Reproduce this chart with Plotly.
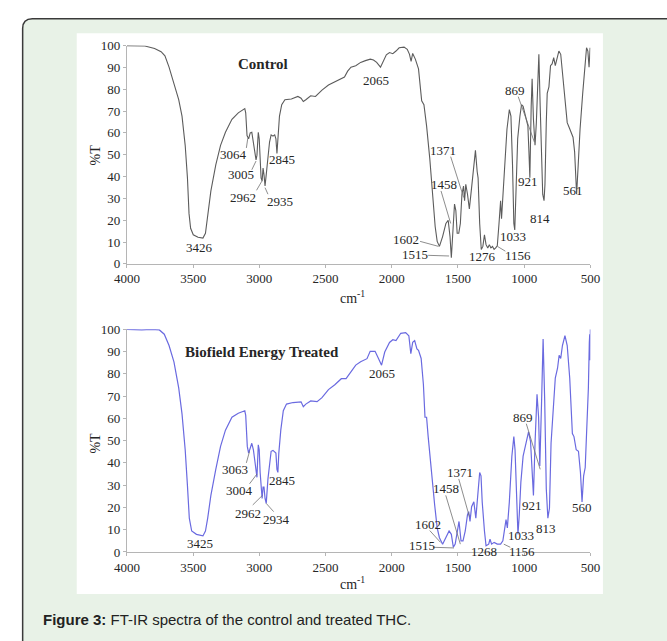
import plotly.graph_objects as go

W, H = 667, 641

# ---------------- data (wavenumber cm-1, %T) ----------------
control_points = [
    (4000, 100), (3864, 99.8), (3791, 98.7), (3742, 97.2), (3713, 95.3), (3682, 90.1), (3645, 82.6),
    (3609, 75.2), (3584, 67.7), (3560, 54.3), (3543, 39.4), (3531, 23), (3519, 16.3), (3499, 13.3),
    (3463, 12.2), (3426, 11.8), (3407, 14), (3390, 21.5), (3366, 33.4), (3329, 45.3), (3293, 54.3),
    (3256, 60.3), (3207, 66.2), (3159, 69.2), (3123, 70.7), (3110, 71.1), (3103, 69.2), (3093, 58.8),
    (3081, 57.3), (3069, 60), (3057, 60.3), (3045, 55.0), (3033, 49.1), (3025, 47.6), (3018, 49.8),
    (3008, 60.3), (3001, 57.3), (2994, 46.8), (2987, 39.4), (2979, 37.9), (2972, 43.9), (2965, 40.9),
    (2957, 35.7), (2948, 40.9), (2935, 49.8), (2923, 55.8), (2911, 59.1), (2897, 58.5), (2884, 59.1),
    (2875, 57.3), (2867, 50.6), (2860, 57.3), (2848, 67.7), (2831, 72.9), (2807, 75.2), (2758, 75.5),
    (2709, 76.7), (2685, 75.9), (2668, 74.4), (2649, 75.2), (2612, 77), (2576, 76.7), (2527, 79.6),
    (2478, 81.9), (2430, 83.4), (2381, 84.9), (2357, 85.6), (2333, 88.3), (2308, 90.1), (2272, 90.8),
    (2235, 92.3), (2199, 93.1), (2162, 93.8), (2138, 93.4), (2114, 92.3), (2085, 90.1), (2065, 93.1),
    (2041, 95.8), (2017, 96.8), (1992, 96.3), (1968, 97.5), (1944, 99), (1907, 99.3), (1883, 98.3),
    (1866, 96), (1854, 92.8), (1842, 96.4), (1822, 93.8), (1798, 89.3), (1774, 74.7), (1757, 72.9),
    (1737, 63.2), (1713, 48.3), (1689, 30.4), (1672, 17), (1657, 10.3), (1640, 8.0), (1616, 12.5),
    (1591, 18.5), (1574, 20), (1560, 12.5), (1550, 2.8), (1540, 12.5), (1526, 27.4), (1516, 24.4),
    (1506, 14), (1494, 14), (1482, 18.5), (1470, 31.9), (1458, 35.6), (1450, 28.9), (1441, 36.4),
    (1428, 31.9), (1414, 25.2), (1397, 34.9), (1380, 46.8), (1368, 52), (1355, 42.3), (1348, 39.4),
    (1336, 18.5), (1324, 6.6), (1312, 8), (1300, 13.3), (1288, 8.8), (1275, 7.3), (1263, 8.8),
    (1251, 7.3), (1239, 8), (1227, 6.6), (1215, 7.3), (1203, 8.3), (1190, 18.5), (1178, 28.9),
    (1171, 20.7), (1161, 30.4), (1147, 45.3), (1130, 61.7), (1112, 70.7), (1100, 67.7), (1088, 45.3),
    (1078, 18.5), (1071, 15.5), (1061, 34.9), (1049, 57.3), (1032, 67.7), (1020, 72.9), (1008, 72.2),
    (991, 68.4), (972, 63.2), (964, 51.3), (957, 39.4), (947, 72.2), (940, 84.8), (930, 66.2),
    (918, 54.3), (908, 64.7), (899, 84.1), (889, 96), (879, 72.2), (869, 45.3), (860, 31.9),
    (850, 28.9), (843, 36.4), (833, 64.7), (826, 78.1), (813, 81.1), (801, 90.8), (789, 91.6),
    (777, 94.5), (765, 90.8), (753, 94.5), (738, 97.5), (724, 96), (709, 87.1), (692, 75.2),
    (675, 64.7), (660, 62.5), (643, 59.5), (631, 58), (619, 51.3), (612, 42.3), (604, 31.9),
    (592, 45.3), (578, 61.7), (558, 78.1), (541, 91.6), (529, 99), (519, 97.5), (510, 90.1), (502, 99),
]

treated_points = [
    (4000, 100), (3888, 99.7), (3815, 100), (3755, 99.7), (3718, 97.8), (3682, 92.7), (3645, 85.4),
    (3609, 73.7), (3584, 62), (3560, 45.9), (3543, 29.8), (3529, 15.2), (3511, 9.4), (3475, 7.9),
    (3426, 7.2), (3407, 9.4), (3390, 15.2), (3366, 25.4), (3329, 37.1), (3293, 47.4), (3256, 54.7),
    (3207, 60.5), (3159, 62.3), (3110, 63.4), (3103, 61.3), (3091, 47.4), (3081, 44.4), (3069, 46.6),
    (3057, 48.8), (3045, 45.9), (3033, 40.1), (3025, 38.6), (3018, 33.5), (3008, 48.1), (3001, 45.9),
    (2994, 35.7), (2987, 26.9), (2979, 24), (2972, 29.1), (2965, 29.1), (2957, 24), (2948, 21.8),
    (2935, 32.8), (2923, 40.1), (2911, 45.2), (2897, 45.6), (2884, 44.7), (2875, 44.4), (2867, 37.1),
    (2860, 35.7), (2853, 44.4), (2838, 54.7), (2819, 63.4), (2795, 66.4), (2746, 67.1), (2685, 67.4),
    (2668, 65.2), (2649, 66.4), (2612, 67.8), (2564, 67.5), (2527, 69.3), (2478, 72.9), (2430, 75.1),
    (2381, 77.8), (2345, 77.8), (2308, 81), (2272, 83.9), (2235, 85.4), (2187, 86.8), (2163, 90.1),
    (2126, 90.1), (2102, 87.1), (2077, 83.9), (2053, 89.8), (2017, 94.1), (1992, 95.3), (1968, 94.9),
    (1932, 98.2), (1895, 98.5), (1871, 97.1), (1856, 89), (1842, 94.1), (1827, 94.9), (1810, 91.2),
    (1798, 90.5), (1778, 86.9), (1761, 75.2), (1749, 60.5), (1737, 60.5), (1725, 51.8), (1701, 35.7),
    (1676, 21.1), (1657, 10.8), (1640, 6.4), (1616, 3.5), (1591, 6.4), (1567, 9.4), (1550, 7.9),
    (1535, 2.1), (1521, 3.5), (1506, 9.4), (1492, 13.7), (1477, 5), (1462, 5), (1445, 9.4),
    (1428, 16.7), (1419, 18.1), (1409, 13.7), (1397, 20.3), (1380, 22.5), (1365, 15.2), (1353, 22.5),
    (1336, 35.7), (1326, 34.2), (1317, 22.5), (1300, 9.4), (1288, 2.8), (1268, 3.5), (1258, 5.7),
    (1246, 3.5), (1227, 4.3), (1203, 3.5), (1178, 3.5), (1161, 5), (1147, 10.8), (1137, 14.5),
    (1127, 10.8), (1112, 22.5), (1093, 43), (1078, 51.8), (1069, 45.9), (1057, 22.5), (1047, 7.9),
    (1037, 16.7), (1025, 31.3), (1008, 43), (984, 50.3), (967, 53.9), (952, 49.6), (940, 35.7),
    (930, 25.4), (918, 48.8), (903, 70.8), (891, 60.5), (882, 38.6), (869, 66.4), (857, 95.6),
    (845, 67.9), (833, 28.4), (821, 15.2), (809, 19.6), (797, 48.8), (782, 62), (765, 78.1),
    (748, 82.5), (736, 88.3), (724, 86.9), (711, 92.7), (692, 97.1), (675, 92.7), (656, 78.1),
    (636, 53.2), (624, 51.8), (607, 45.9), (590, 45.2), (575, 35.7), (563, 22.5), (551, 34.2),
    (539, 37.9), (527, 53.2), (515, 73.7), (508, 94.1), (505, 97.8), (502, 86.1), (500, 100),
]

x_ticks = [4000, 3500, 3000, 2500, 2000, 1500, 1000, 500]
y_ticks = [0, 10, 20, 30, 40, 50, 60, 70, 80, 90, 100]

# peak labels: text, label position (cm-1, %T), optional leader line (x0, y0, x1, y1)
control_labels = [
    ("3426", 3455, 7.7, None),
    ("3064", 3196, 50, (3098, 53.1, 3087, 57.6)),
    ("3005", 3140, 40.9, (3057, 43.1, 3025, 47.1)),
    ("2962", 3123, 30.4, (3021, 33.7, 2981, 37.9)),
    ("2935", 2843, 28.5, (2935, 31.9, 2957, 34.9)),
    ("2845", 2831, 47.6, None),
    ("2065", 2119, 84.1, None),
    ("1371", 1616, 52, (1555, 49.1, 1457, 30.4)),
    ("1458", 1603, 36.4, (1628, 33.4, 1555, 18.5)),
    ("1602", 1895, 11, (1786, 10.3, 1647, 8)),
    ("1515", 1822, 4.3, (1725, 3.9, 1567, 3.6)),
    ("1276", 1317, 3.3, None),
    ("1156", 1045, 3.9, (1142, 5.8, 1202, 8)),
    ("1033", 1088, 12.5, None),
    ("921", 972, 37.6, None),
    ("869", 1069, 79.6, (1045, 76.6, 923, 55.8)),
    ("814", 879, 20.7, None),
    ("561", 631, 33.4, None),
]

treated_labels = [
    ("3425", 3451, 3.8, None),
    ("3063", 3183, 37.1, (3098, 40.0, 3074, 45.2)),
    ("3004", 3147, 27.6, (3074, 30.6, 3018, 35)),
    ("2962", 3086, 17.4, (3050, 21.1, 2977, 25.4)),
    ("2934", 2868, 14.5, (2892, 18.1, 2948, 21.8)),
    ("2845", 2831, 32, None),
    ("2065", 2077, 80.3, None),
    ("1371", 1482, 35.7, (1494, 32.8, 1414, 15.9)),
    ("1458", 1592, 28.4, (1592, 25.4, 1482, 3.5)),
    ("1602", 1725, 12.3, (1713, 9.6, 1632, 4.3)),
    ("1515", 1774, 2.8, (1689, 2.1, 1530, 1.8)),
    ("1268", 1300, 0.3, None),
    ("1156", 1016, 0.2, (1105, 2.1, 1154, 3.5)),
    ("1033", 1025, 7.2, None),
    ("921", 943, 21, None),
    ("869", 1008, 60.5, (984, 57.6, 879, 37.1)),
    ("813", 838, 10.5, None),
    ("560", 563, 19.9, None),
]

# ---------------- figure ----------------
def px(x):
    return x / W

def py(y):
    return 1 - y / H

SERIF = "Liberation Serif, Times New Roman, serif"
TXT = "#262626"

fig = go.Figure()
fig.add_trace(go.Scatter(
    x=[p[0] for p in control_points], y=[p[1] for p in control_points],
    mode="lines", line=dict(color="#5c5c5c", width=1.1), xaxis="x", yaxis="y",
    showlegend=False, hoverinfo="skip"))
fig.add_trace(go.Scatter(
    x=[p[0] for p in treated_points], y=[p[1] for p in treated_points],
    mode="lines", line=dict(color="#6a6ae0", width=1.2), xaxis="x2", yaxis="y2",
    showlegend=False, hoverinfo="skip"))

axis_common = dict(
    showgrid=False, zeroline=False, showline=True, linecolor="#b5b5b5", linewidth=1,
    ticks="outside", ticklen=3, tickcolor="#b5b5b5",
    tickfont=dict(family=SERIF, size=13, color=TXT),
)

xdom = [px(118), px(598)]
fig.update_layout(
    width=W, height=H, margin=dict(l=0, r=0, t=0, b=0),
    paper_bgcolor="white", plot_bgcolor="rgba(0,0,0,0)",
    xaxis=dict(domain=xdom, range=[4000, 500], tickvals=x_ticks, anchor="y", **axis_common),
    yaxis=dict(domain=[py(263), py(39.5)], range=[0, 100], tickvals=y_ticks, anchor="x", **axis_common),
    xaxis2=dict(domain=xdom, range=[4000, 500], tickvals=x_ticks, anchor="y2", **axis_common),
    yaxis2=dict(domain=[py(558), py(330)], range=[0, 100], tickvals=y_ticks, anchor="x2", **axis_common),
)

shapes = []
# green panel with rounded top-left corner
panel_path = (f"M {px(10)},{py(700)} L {px(10)},{py(22)} Q {px(10)},{py(12)} {px(20)},{py(12)} "
              f"L {px(700)},{py(12)} L {px(700)},{py(700)} Z")
shapes.append(dict(type="path", xref="paper", yref="paper", path=panel_path,
                   fillcolor="#e8f2e7", line=dict(width=0), layer="below"))
border_path = (f"M {px(10)},{py(700)} L {px(10)},{py(22)} Q {px(10)},{py(12)} {px(20)},{py(12)} "
               f"L {px(700)},{py(12)}")
shapes.append(dict(type="path", xref="paper", yref="paper", path=border_path,
                   line=dict(color="#3a3a3a", width=1.5), layer="below"))
shapes.append(dict(type="rect", xref="paper", yref="paper", x0=px(66), x1=px(611), y0=py(601), y1=py(27),
                   fillcolor="white", line=dict(width=0), layer="below"))

annotations = []
for labels, xr, yr in [(control_labels, "x", "y"), (treated_labels, "x2", "y2")]:
    for text, lx, ly, lead in labels:
        annotations.append(dict(x=lx, y=ly, xref=xr, yref=yr, text=text, showarrow=False,
                                xanchor="center", yanchor="middle",
                                font=dict(family=SERIF, size=13, color=TXT)))
        if lead:
            x0, y0, x1, y1 = lead
            shapes.append(dict(type="line", xref=xr, yref=yr, x0=x0, y0=y0, x1=x1, y1=y1,
                               line=dict(color="#707070", width=0.8)))

def paper_text(x, y, text, size, family=SERIF, angle=0, xanchor="center", color=TXT):
    return dict(x=px(x), y=py(y), xref="paper", yref="paper", text=text, showarrow=False,
                xanchor=xanchor, yanchor="middle", textangle=angle,
                font=dict(family=family, size=size, color=color))

annotations += [
    paper_text(259, 58, "<b>Control</b>", 15),
    paper_text(258, 353, "<b>Biofield Energy Treated</b>", 15),
    paper_text(352, 297, "cm<sup>-1</sup>", 14),
    paper_text(352, 590, "cm<sup>-1</sup>", 14),
    paper_text(85, 152, "%T", 14, angle=-90),
    paper_text(85, 447, "%T", 14, angle=-90),
    paper_text(29, 627, "<b>Figure 3:</b> FT-IR spectra of the control and treated THC.", 15,
               family="Liberation Sans, Arial, sans-serif", xanchor="left", color="#222222"),
]

fig.update_layout(shapes=shapes, annotations=annotations)
fig.write_html("out.html")
